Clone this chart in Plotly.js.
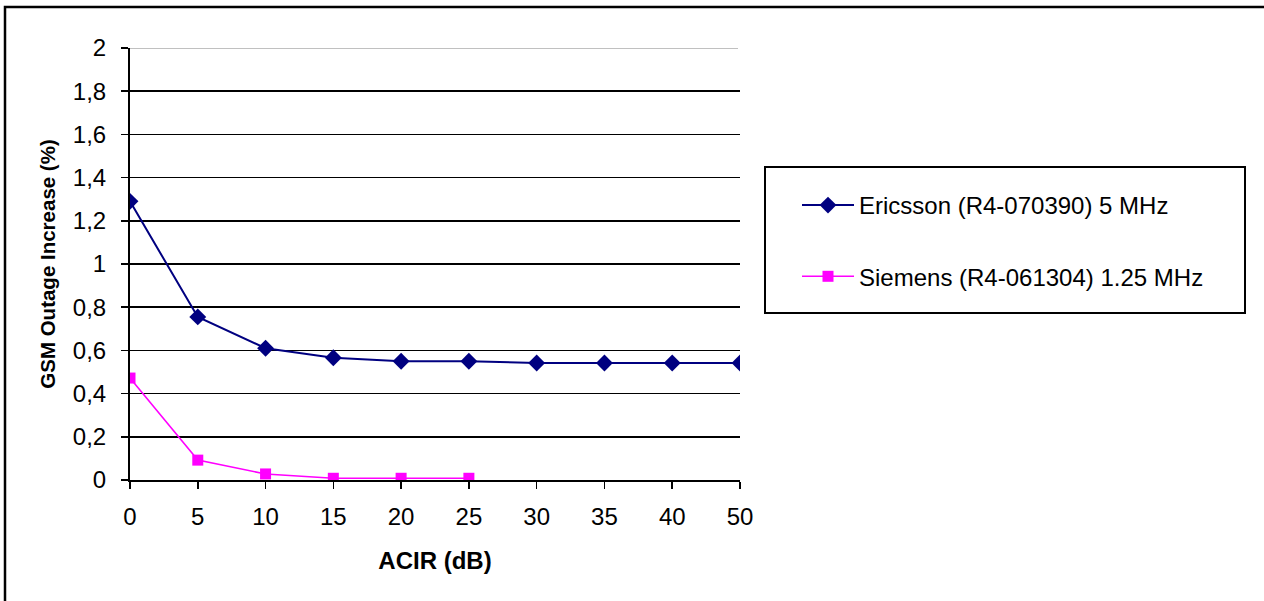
<!DOCTYPE html>
<html>
<head>
<meta charset="utf-8">
<script src="https://cdn.plot.ly/plotly-3.0.1.min.js"></script>
<style>
  html, body { margin: 0; padding: 0; background: #ffffff; }
  #chart { width: 1264px; height: 601px; }
</style>
</head>
<body>
<div id="chart"></div>
<script>
// ---- data ----
const acirCategories = ['0', '5', '10', '15', '20', '25', '30', '35', '40', '50'];
const ericssonValues = [1.29, 0.755, 0.61, 0.566, 0.55, 0.55, 0.542, 0.542, 0.542, 0.542];
const siemensCategories = ['0', '5', '10', '15', '20', '25'];
const siemensValues = [0.472, 0.092, 0.028, 0.008, 0.008, 0.008];
const yTickValues = [0, 0.2, 0.4, 0.6, 0.8, 1, 1.2, 1.4, 1.6, 1.8, 2];
const seriesNames = ['Ericsson (R4-070390) 5 MHz', 'Siemens (R4-061304) 1.25 MHz'];

const W = 1264, H = 601;
const L = 130, R = 740, T = 48, B = 480;
const pw = R - L, ph = B - T;
const px = v => (v - L) / pw;
const py = v => (B - v) / ph;

const FONT = 'Liberation Sans, Arial, sans-serif';
const FS = 24;

const traces = [
  {
    x: acirCategories, y: ericssonValues, name: seriesNames[0],
    type: 'scatter', mode: 'lines+markers', legendgroup: 'a',
    line: { color: '#000080', width: 2 },
    marker: { symbol: 'diamond', size: 13, color: '#000080' }
  },
  {
    x: siemensCategories, y: siemensValues, name: seriesNames[1],
    type: 'scatter', mode: 'lines+markers', legendgroup: 'b',
    line: { color: '#FF00FF', width: 1.6 },
    marker: { symbol: 'square', size: 11, color: '#FF00FF' }
  }
];

const layout = {
  width: W, height: H,
  margin: { l: L, r: W - R, t: T, b: H - B, pad: 0 },
  paper_bgcolor: '#ffffff', plot_bgcolor: '#ffffff',
  separators: ', ',
  font: { family: FONT, size: FS, color: '#000000' },
  showlegend: true,
  legend: {
    x: px(797), y: py(183), xanchor: 'left', yanchor: 'top',
    traceorder: 'grouped', tracegroupgap: 37,
    itemwidth: 52,
    bgcolor: 'rgba(0,0,0,0)', borderwidth: 0,
    font: { family: FONT, size: FS, color: '#000000' }
  },
  xaxis: {
    type: 'category', categoryorder: 'array', categoryarray: acirCategories,
    range: [0, 9], autorange: false,
    showgrid: false, zeroline: false,
    showline: true, linecolor: '#000000', linewidth: 2,
    ticks: 'outside', ticklen: 7, tickwidth: 1.5, tickcolor: '#000000',
    ticklabelstandoff: 7,
    tickfont: { family: FONT, size: FS, color: '#000000' },
    title: { text: '<b>ACIR (dB)</b>', standoff: 23, font: { family: FONT, size: FS, color: '#000000' } },
    fixedrange: true
  },
  yaxis: {
    range: [0, 2], autorange: false,
    tickvals: yTickValues,
    showgrid: true, gridcolor: '#000000', gridwidth: 1.5,
    zeroline: false,
    showline: true, linecolor: '#000000', linewidth: 2,
    ticks: 'outside', ticklen: 7, tickwidth: 1.5, tickcolor: '#000000',
    ticklabelstandoff: 10,
    tickfont: { family: FONT, size: FS, color: '#000000' },
    title: { text: '<b>GSM Outage Increase (%)</b>', standoff: 12, font: { family: FONT, size: 20.5, color: '#000000' } },
    fixedrange: true
  },
  shapes: [
    // gray top gridline
    { type: 'line', xref: 'paper', yref: 'y', x0: 0, x1: px(738), y0: 2, y1: 2,
      line: { color: '#c0c0c0', width: 2 }, layer: 'above' },
    // legend box
    { type: 'rect', xref: 'paper', yref: 'paper',
      x0: px(765), x1: px(1245), y0: py(313), y1: py(167),
      line: { color: '#000000', width: 2 }, fillcolor: 'rgba(0,0,0,0)' },
    // outer chart border
    { type: 'rect', xref: 'paper', yref: 'paper',
      x0: px(5), x1: px(1290), y0: py(640), y1: py(7),
      line: { color: '#000000', width: 2.5 }, fillcolor: 'rgba(0,0,0,0)' }
  ]
};

Plotly.newPlot('chart', traces, layout, { displayModeBar: false, staticPlot: true });
</script>
</body>
</html>
